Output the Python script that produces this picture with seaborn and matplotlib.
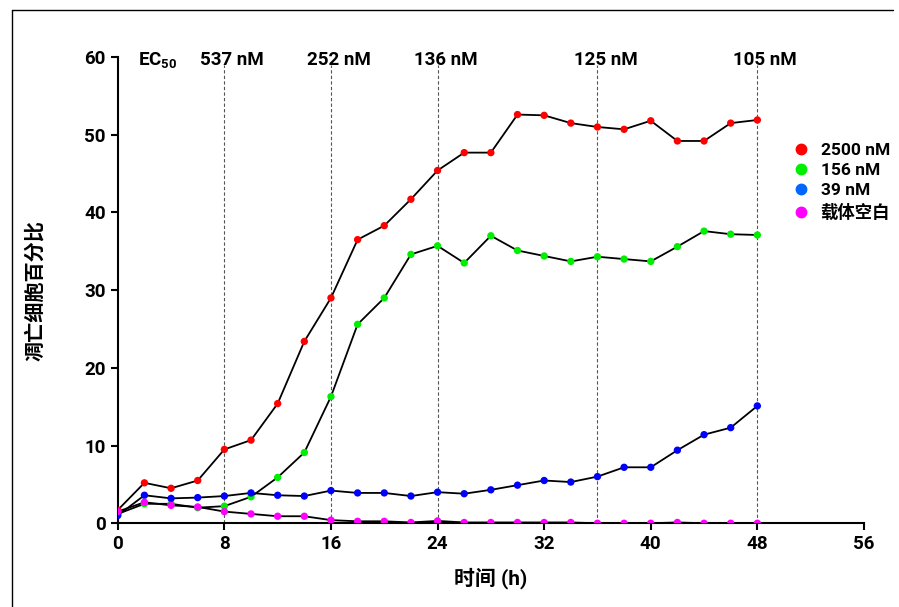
import numpy as np
import pandas as pd
import matplotlib.pyplot as plt
import seaborn as sns
from matplotlib.lines import Line2D

sns.set_style('ticks')
plt.rcParams['font.family'] = ['Roboto', 'Noto Sans CJK SC', 'DejaVu Sans']
plt.rcParams['font.weight'] = 'bold'
plt.rcParams['mathtext.fontset'] = 'custom'
plt.rcParams['mathtext.rm'] = 'Roboto:bold'
plt.rcParams['mathtext.default'] = 'rm'
plt.rcParams['axes.unicode_minus'] = False
for k in ['text.color', 'axes.labelcolor', 'xtick.color', 'ytick.color', 'axes.edgecolor']:
    plt.rcParams[k] = 'black'

# 时间点 (h)
hours = list(range(0, 50, 2))

# 各浓度下凋亡细胞百分比
red_2500 = [1.7, 5.2, 4.5, 5.5, 9.5, 10.7, 15.4, 23.4, 29.0, 36.5, 38.3, 41.7, 45.4,
            47.7, 47.7, 52.6, 52.5, 51.5, 51.0, 50.7, 51.8, 49.2, 49.2, 51.5, 51.9]
green_156 = [1.2, 2.5, 2.5, 2.0, 2.2, 3.4, 5.9, 9.1, 16.3, 25.6, 29.0, 34.6, 35.7,
             33.5, 37.0, 35.1, 34.4, 33.7, 34.3, 34.0, 33.7, 35.6, 37.6, 37.2, 37.1]
blue_39 = [1.0, 3.6, 3.2, 3.3, 3.5, 3.9, 3.6, 3.5, 4.2, 3.9, 3.9, 3.5, 4.0,
           3.8, 4.3, 4.9, 5.5, 5.3, 6.0, 7.2, 7.2, 9.4, 11.4, 12.3, 15.1]
vehicle = [1.5, 2.7, 2.3, 2.1, 1.5, 1.2, 0.9, 0.9, 0.4, 0.25, 0.25, 0.1, 0.3,
           0.1, 0.1, 0.1, 0.1, 0.1, 0.0, 0.0, 0.0, 0.1, 0.0, 0.0, 0.0]

groups = ['2500 nM', '156 nM', '39 nM', '载体空白']
colors = ['#ff0000', '#00ee00', '#0000ff', '#ff00ff']

# EC50 标注
ec50_hours = [8, 16, 24, 36, 48]
ec50_labels = ['537 nM', '252 nM', '136 nM', '125 nM', '105 nM']

df = pd.DataFrame({
    'hour': hours * 4,
    'value': red_2500 + green_156 + blue_39 + vehicle,
    'group': np.repeat(groups, len(hours)),
})

fig = plt.figure(figsize=(8.99, 6.07), dpi=100)
ax = fig.add_axes([0.131, 0.138, 0.830, 0.768])

for h in ec50_hours:
    ax.plot([h, h], [0, 59.0], ls=(0, (3, 2)), color='#555555', lw=0.8, zorder=1)

sns.lineplot(data=df, x='hour', y='value', hue='group', hue_order=groups,
             palette=['black'] * 4, lw=1.3, legend=False, ax=ax, zorder=2)
sns.scatterplot(data=df, x='hour', y='value', hue='group', hue_order=groups,
                palette=colors, s=28, linewidth=0, ax=ax, zorder=3)

ax.set_xlim(0, 56)
ax.set_ylim(0, 60)
ax.set_xticks(range(0, 57, 8))
ax.set_yticks(range(0, 61, 10))
ax.tick_params(labelsize=13.5, width=1.5, length=5, direction='out')
for lab in ax.get_xticklabels() + ax.get_yticklabels():
    lab.set_fontweight('bold')
for s in ['top', 'right']:
    ax.spines[s].set_visible(False)
for s in ['left', 'bottom']:
    ax.spines[s].set_linewidth(1.5)

ax.set_xlabel('时间 (h)', fontsize=15, fontweight='bold', labelpad=10)
ax.set_ylabel('凋亡细胞百分比', fontsize=14.5, fontweight='bold', labelpad=28)

ax.text(3.0, 59.6, 'EC$_{50}$', fontsize=13.5, fontweight='bold', ha='center', va='center')
for h, lab in zip(ec50_hours, ec50_labels):
    ax.text(h + 0.6, 59.6, lab, fontsize=13.5, fontweight='bold', ha='center', va='center')

handles = [Line2D([], [], ls='', marker='o', ms=7.5, mfc=c, mec=c)
           for c in ['#ff0000', '#00ee00', '#0066ff', '#ff00ff']]
leg = ax.legend(handles, groups, loc='upper left', bbox_to_anchor=(0.872, 0.85),
                frameon=False, handletextpad=0.1, labelspacing=0.3,
                prop={'weight': 'bold', 'size': 12.5})

# 图框边线
fig.add_artist(Line2D([0.013, 0.013], [0.0, 0.983], color='black', lw=1))
fig.add_artist(Line2D([0.013, 0.993], [0.983, 0.983], color='black', lw=1))

fig.savefig('out.png', dpi=100)
